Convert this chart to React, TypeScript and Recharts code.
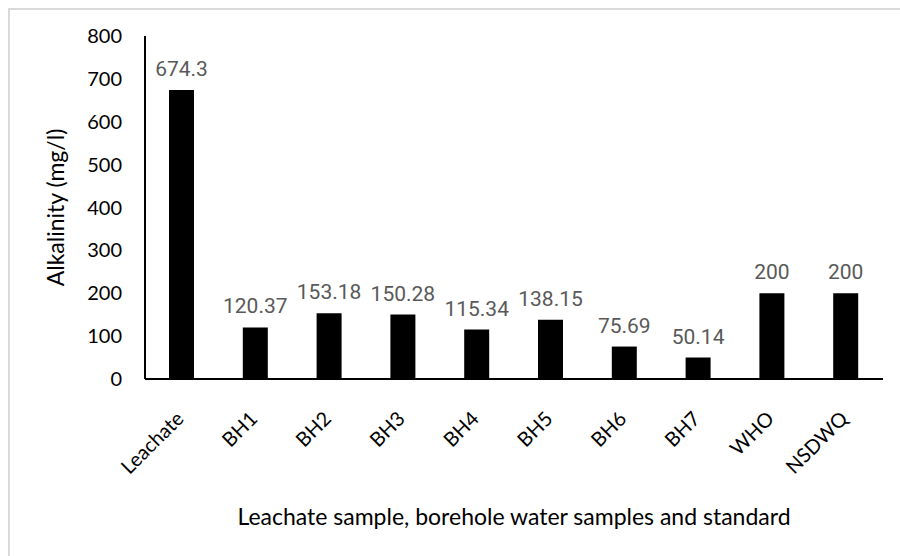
import { BarChart, Bar, XAxis, YAxis, LabelList } from 'recharts'

const samples = ['Leachate', 'BH1', 'BH2', 'BH3', 'BH4', 'BH5', 'BH6', 'BH7', 'WHO', 'NSDWQ']
const alkalinity = [674.3, 120.37, 153.18, 150.28, 115.34, 138.15, 75.69, 50.14, 200, 200]
const yTicks = [0, 100, 200, 300, 400, 500, 600, 700, 800]

const data = samples.map((name, i) => ({ name, value: alkalinity[i] }))

const axisFont = 'Lato, "Open Sans", sans-serif'

// rotated category labels, end of text tucked under the bar
const SampleTick = (props: any) => {
  const { x, y, payload } = props
  return (
    <g transform={`translate(${x + 3},${y + 33})`}>
      <text x={0} y={0} textAnchor="end" transform="rotate(-45)" fontFamily={axisFont} fontSize={20} fill="#000">
        {payload.value}
      </text>
    </g>
  )
}

const YTitle = (props: any) => {
  const { viewBox } = props
  const cy = viewBox.y + viewBox.height / 2
  const cx = 45
  return (
    <text x={cx} y={cy} transform={`rotate(-90, ${cx}, ${cy})`} textAnchor="middle" dominantBaseline="central" fontFamily={axisFont} fontSize={23} fill="#000">
      Alkalinity (mg/l)
    </text>
  )
}

export default function App() {
  return (
    <>
      <style>{'html, body { overflow: hidden; }'}</style>
      <div style={{ position: 'absolute', left: 8, top: 8, width: 892, height: 548, borderTop: '2px solid #d9d9d9', borderLeft: '2px solid #d9d9d9', boxSizing: 'border-box', overflow: 'hidden', background: '#fff' }}>
        <BarChart width={890} height={546} data={data} margin={{ top: 26, right: 17, bottom: 0, left: 10 }}>
          <XAxis
            dataKey="name"
            height={177}
            tickLine={false}
            axisLine={{ stroke: '#000', strokeWidth: 2 }}
            tick={<SampleTick />}
            interval={0}
            label={{ value: 'Leachate sample, borehole water samples and standard', position: 'insideBottom', offset: 31, fontFamily: axisFont, fontSize: 23, fill: '#000' }}
          />
          <YAxis
            domain={[0, 800]}
            ticks={yTicks}
            width={125}
            tickLine={false}
            tickSize={0}
            tickMargin={23}
            axisLine={{ stroke: '#000', strokeWidth: 2 }}
            tick={{ fontFamily: axisFont, fontSize: 20, fill: '#000' }}
            label={<YTitle />}
          />
          <Bar dataKey="value" fill="#000" barSize={25} isAnimationActive={false}>
            <LabelList dataKey="value" position="top" offset={14} fontFamily="Roboto, sans-serif" fontSize={21} fill="#595959" />
          </Bar>
        </BarChart>
      </div>
    </>
  )
}
